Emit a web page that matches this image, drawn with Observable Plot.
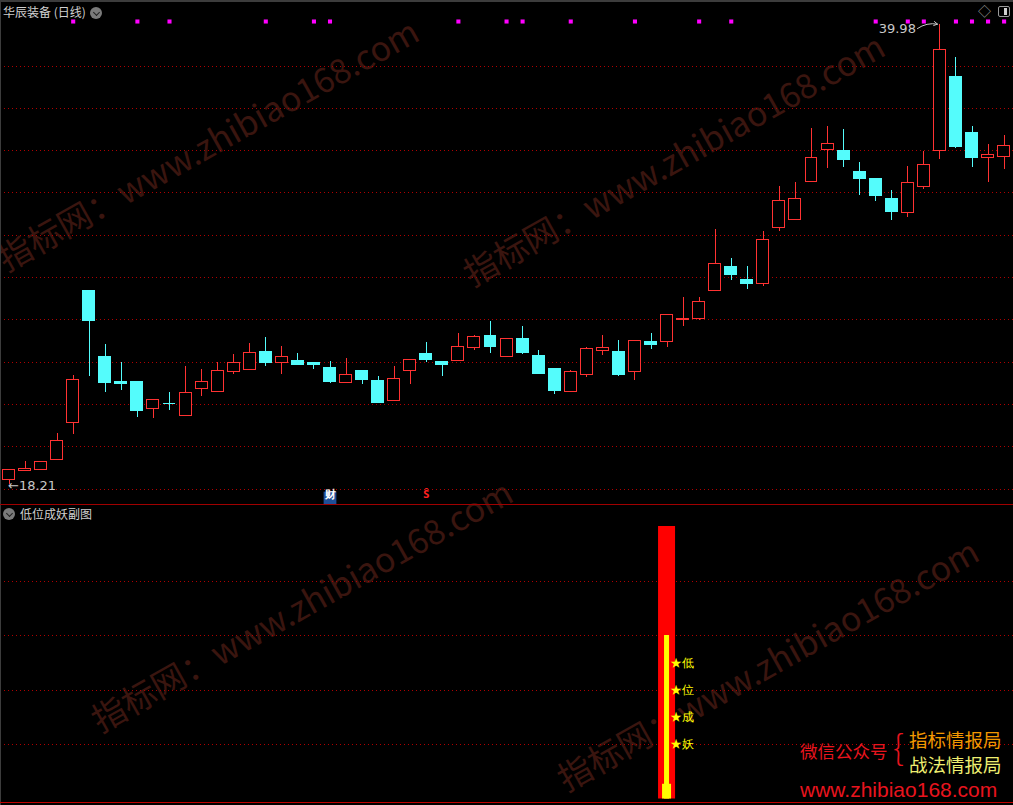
<!DOCTYPE html>
<html><head><meta charset="utf-8">
<script src="https://cdn.jsdelivr.net/npm/d3@7"></script>
<script src="https://cdn.jsdelivr.net/npm/@observablehq/plot@0.6"></script>
<style>
body{margin:0;background:#000;}
#wrap{position:relative;width:1013px;height:805px;background:#000;overflow:hidden;font-family:"Noto Sans CJK SC","Noto Sans",sans-serif;}
.wm{position:absolute;white-space:nowrap;font-size:34px;line-height:34px;height:34px;color:#3a150f;transform-origin:0 100%;transform:rotate(-29.3deg);z-index:0;}
.abs{position:absolute;white-space:nowrap;z-index:3;}
#top,#bot{position:absolute;left:0;z-index:2;}
#top{top:0;} #bot{top:503px;}
.circ{position:absolute;width:12px;height:12px;border-radius:50%;background:#7a7a7a;z-index:3;}
.circ:after{content:"";position:absolute;left:3.5px;top:2.5px;width:4px;height:4px;border-right:1.5px solid #222;border-bottom:1.5px solid #222;transform:rotate(45deg);}
</style></head><body>
<div id="wrap">
  <div class="wm" style="left:8px;top:241px">指标网：www.zhibiao168.com</div>
  <div class="wm" style="left:474px;top:256px">指标网：www.zhibiao168.com</div>
  <div class="wm" style="left:102px;top:702px">指标网：www.zhibiao168.com</div>
  <div class="wm" style="left:568px;top:761px">指标网：www.zhibiao168.com</div>
  <div id="top"></div>
  <div id="bot"></div>
  <div class="abs" style="left:0;top:0;width:1013px;height:2px;background:#3c3c3c"></div>
  <div class="abs" style="left:0;top:0;width:1px;height:805px;background:#3c3c3c"></div>
  <div class="abs" style="left:0;top:504px;width:1013px;height:1px;background:#a00000"></div>
  <div class="abs" style="left:0;top:802px;width:1013px;height:1px;background:#c00000"></div>
  <div class="abs" style="left:3px;top:5px;font-size:12px;line-height:14px;color:#d0d0d0">华辰装备 (日线)</div>
  <div class="circ" style="left:90px;top:7px"></div>
  <div class="abs" style="left:978px;top:3px;font-size:13px;line-height:16px;color:#9a9a9a">◇</div>
  <div class="abs" style="left:998px;top:6px;width:10px;height:9px;border:1.5px solid #9a9a9a;border-radius:2px"></div>
  <div class="abs" style="left:1004px;top:8px;width:3px;height:7px;background:#cfcfcf"></div>
  <div class="circ" style="left:3px;top:508px"></div>
  <div class="abs" style="left:20px;top:507px;font-size:12px;line-height:14px;color:#d0d0d0">低位成妖副图</div>
  <div class="abs" style="left:800px;top:741px;font-size:17.5px;line-height:20px;color:#e8141e">微信公众号</div>
  <div class="abs" style="left:893px;top:728px;font-size:34px;line-height:36px;font-weight:300;color:#e8141e">{</div>
  <div class="abs" style="left:909px;top:729px;font-size:18.5px;line-height:20px;color:#f39800">指标情报局</div>
  <div class="abs" style="left:909px;top:754px;font-size:18.5px;line-height:20px;color:#eeee70">战法情报局</div>
  <div class="abs" style="left:800px;top:779px;font-size:21px;line-height:22px;color:#e8141e;font-family:'Liberation Sans',sans-serif">www.zhibiao168.com</div>
</div>
<script>
// ---- data ----
const open  = [18.41,18.85,18.88,19.35,21.14,27.35,24.24,23.06,23.06,21.77,22.01,21.47,22.72,22.60,23.52,23.64,24.48,23.94,24.05,23.96,23.72,23.03,23.58,23.11,22.18,23.59,24.38,23.99,24.07,24.68,25.23,24.25,25.09,24.29,23.67,22.60,23.41,24.51,24.48,23.52,24.95,24.93,26.01,26.05,27.37,28.49,27.87,27.70,30.34,30.72,32.51,34.04,34.00,33.01,32.64,31.69,31.07,32.29,33.99,37.50,34.81,33.66,33.71];
const close = [18.91,18.96,19.27,20.26,23.14,25.95,23.03,22.98,21.71,22.21,22.00,22.53,23.05,23.57,23.94,24.42,23.97,24.23,23.88,23.88,23.08,23.38,23.17,22.08,23.19,24.08,24.11,23.88,24.70,25.17,24.73,25.08,24.44,23.45,22.65,23.52,24.62,24.65,23.41,24.98,24.82,26.22,26.02,26.82,28.66,28.11,27.70,29.75,31.63,31.73,33.67,34.32,33.55,32.65,31.85,31.09,32.48,33.34,38.75,34.16,33.64,33.77,34.23];
const high  = [18.91,19.29,19.27,20.61,23.39,27.35,24.81,24.00,23.06,22.21,22.58,23.77,23.63,24.00,24.38,24.90,25.14,24.76,24.43,23.98,24.05,24.15,23.58,23.34,23.77,24.08,24.95,23.99,25.33,25.25,25.94,25.08,25.66,24.57,23.72,23.58,24.70,25.28,25.04,24.98,25.37,26.22,27.07,27.07,30.28,28.91,28.53,30.18,32.31,32.50,35.04,35.14,35.00,33.44,32.68,32.12,33.25,33.96,39.98,38.39,35.14,34.29,34.71];
const low   = [18.21,18.85,18.88,19.35,20.58,23.34,22.56,22.65,21.38,21.33,21.71,21.47,22.37,22.56,23.41,23.59,23.78,23.41,23.83,23.64,22.98,23.00,22.93,22.04,22.18,22.93,23.97,23.34,24.07,24.54,24.40,24.21,24.35,23.45,22.46,22.60,23.26,24.30,23.31,23.12,24.58,24.68,25.67,25.95,27.37,27.87,27.45,27.56,30.18,30.72,32.51,33.17,33.22,31.90,31.61,30.70,30.86,32.18,33.59,34.11,33.22,32.51,33.09];
const signalDays = [4,8,10,16,19,20,28,31,32,35,39,43,45,54,56,57,59,60,61,62];
const gridPrices = [18,20,22,24,26,28,30,32,34,36,38];
const eventDays = [20,26];
const eventLabels = ["财","Ŝ"];
const subDay = 41;
const subRed = 100, subYellow = 60, subBase = 5.4;
const starLabels = ["低","位","成","妖"];
const starValues = [50,40,30,20];
const subGrid = [20,40,60,80];

const RED = "#ff3232", CYAN = "#54fcfc", GRID = "#b00000";
const candles = open.map((o,i)=>({i, open:o, close:close[i], high:high[i], low:low[i]}));
const up = candles.filter(d=>d.close>=d.open), down = candles.filter(d=>d.close<d.open);
const hw = 0.3738;
const mi = high.indexOf(Math.max(...high));
const events = eventDays.map((d,k)=>({i:d, label:eventLabels[k]}));
const xs = {domain:[0,62], range:[8.5,1003.6], axis:null};

const topChart = Plot.plot({
  width:1013, height:503, margin:0,
  x: xs,
  y: {domain:[18,38], range:[488.5,65.5], axis:null},
  style:{background:"transparent", overflow:"visible"},
  marks:[
    Plot.ruleY(gridPrices,{stroke:GRID, strokeDasharray:"1,3", shapeRendering:"crispEdges"}),
    Plot.ruleX(down,{x:"i", y1:"low", y2:"high", stroke:CYAN, shapeRendering:"crispEdges"}),
    Plot.ruleX(up,{x:"i", y1:"low", y2:"open", stroke:RED, shapeRendering:"crispEdges"}),
    Plot.ruleX(up,{x:"i", y1:"close", y2:"high", stroke:RED, shapeRendering:"crispEdges"}),
    Plot.rect(down,{x1:d=>d.i-hw, x2:d=>d.i+hw, y1:"open", y2:"close", fill:CYAN, stroke:CYAN, inset:0, shapeRendering:"crispEdges"}),
    Plot.rect(up,{x1:d=>d.i-hw, x2:d=>d.i+hw, y1:"open", y2:"close", fill:"#000", stroke:RED, inset:0, shapeRendering:"crispEdges"}),
    Plot.dot(signalDays,{x:d=>d, frameAnchor:"top", dy:21, symbol:"square", r:2.3, fill:"#ff00ff", stroke:null}),
    Plot.text([candles[0]],{x:"i", y:"low", text:d=>"←"+d.low.toFixed(2), textAnchor:"start", dx:-1, dy:1, fill:"#c8c8c8", fontSize:13, fontFamily:"DejaVu Sans"}),
    Plot.text([candles[mi]],{x:"i", y:"high", text:d=>d.high.toFixed(2), textAnchor:"end", dx:-24, dy:5, fill:"#c8c8c8", fontSize:13, fontFamily:"DejaVu Sans"}),
    Plot.arrow([candles[mi]],{x1:d=>d.i-1.4, y1:d=>d.high-0.21, x2:d=>d.i-0.15, y2:d=>d.high, stroke:"#c8c8c8", strokeWidth:1, headLength:6, bend:true}),
    Plot.dot(events.filter(e=>e.label==="财"),{x:"i", frameAnchor:"bottom", dy:-5.5, symbol:"square", r:7.2, fill:"#1f4e96", stroke:null}),
    Plot.text(events,{x:"i", text:"label", frameAnchor:"bottom", dy:-5.5, fill:d=>d.label==="财"?"#ffffff":"#ff2020", fontSize:11, fontWeight:"bold"})
  ]
});
document.getElementById("top").appendChild(topChart);

const botChart = Plot.plot({
  width:1013, height:302, margin:0,
  x: xs,
  y: {domain:[0,100], range:[295.5,23], axis:null},
  style:{background:"transparent", overflow:"visible"},
  marks:[
    Plot.ruleY(subGrid,{stroke:GRID, strokeDasharray:"1,3", shapeRendering:"crispEdges"}),
    Plot.rect([subDay],{x1:d=>d-0.53, x2:d=>d+0.53, y1:()=>0, y2:()=>subRed, fill:"#ff0000", inset:0}),
    Plot.rect([subDay],{x1:d=>d-0.156, x2:d=>d+0.156, y1:()=>0, y2:()=>subYellow, fill:"#ffff00", inset:0}),
    Plot.rect([subDay],{x1:d=>d-0.28, x2:d=>d+0.28, y1:()=>0, y2:()=>subBase, fill:"#ffff00", inset:0}),
    Plot.text(starLabels,{x:()=>subDay, y:(d,k)=>starValues[k], text:d=>"★"+d, textAnchor:"start", dx:3, fill:"#ffff00", fontSize:12})
  ]
});
document.getElementById("bot").appendChild(botChart);
</script>
</body></html>
